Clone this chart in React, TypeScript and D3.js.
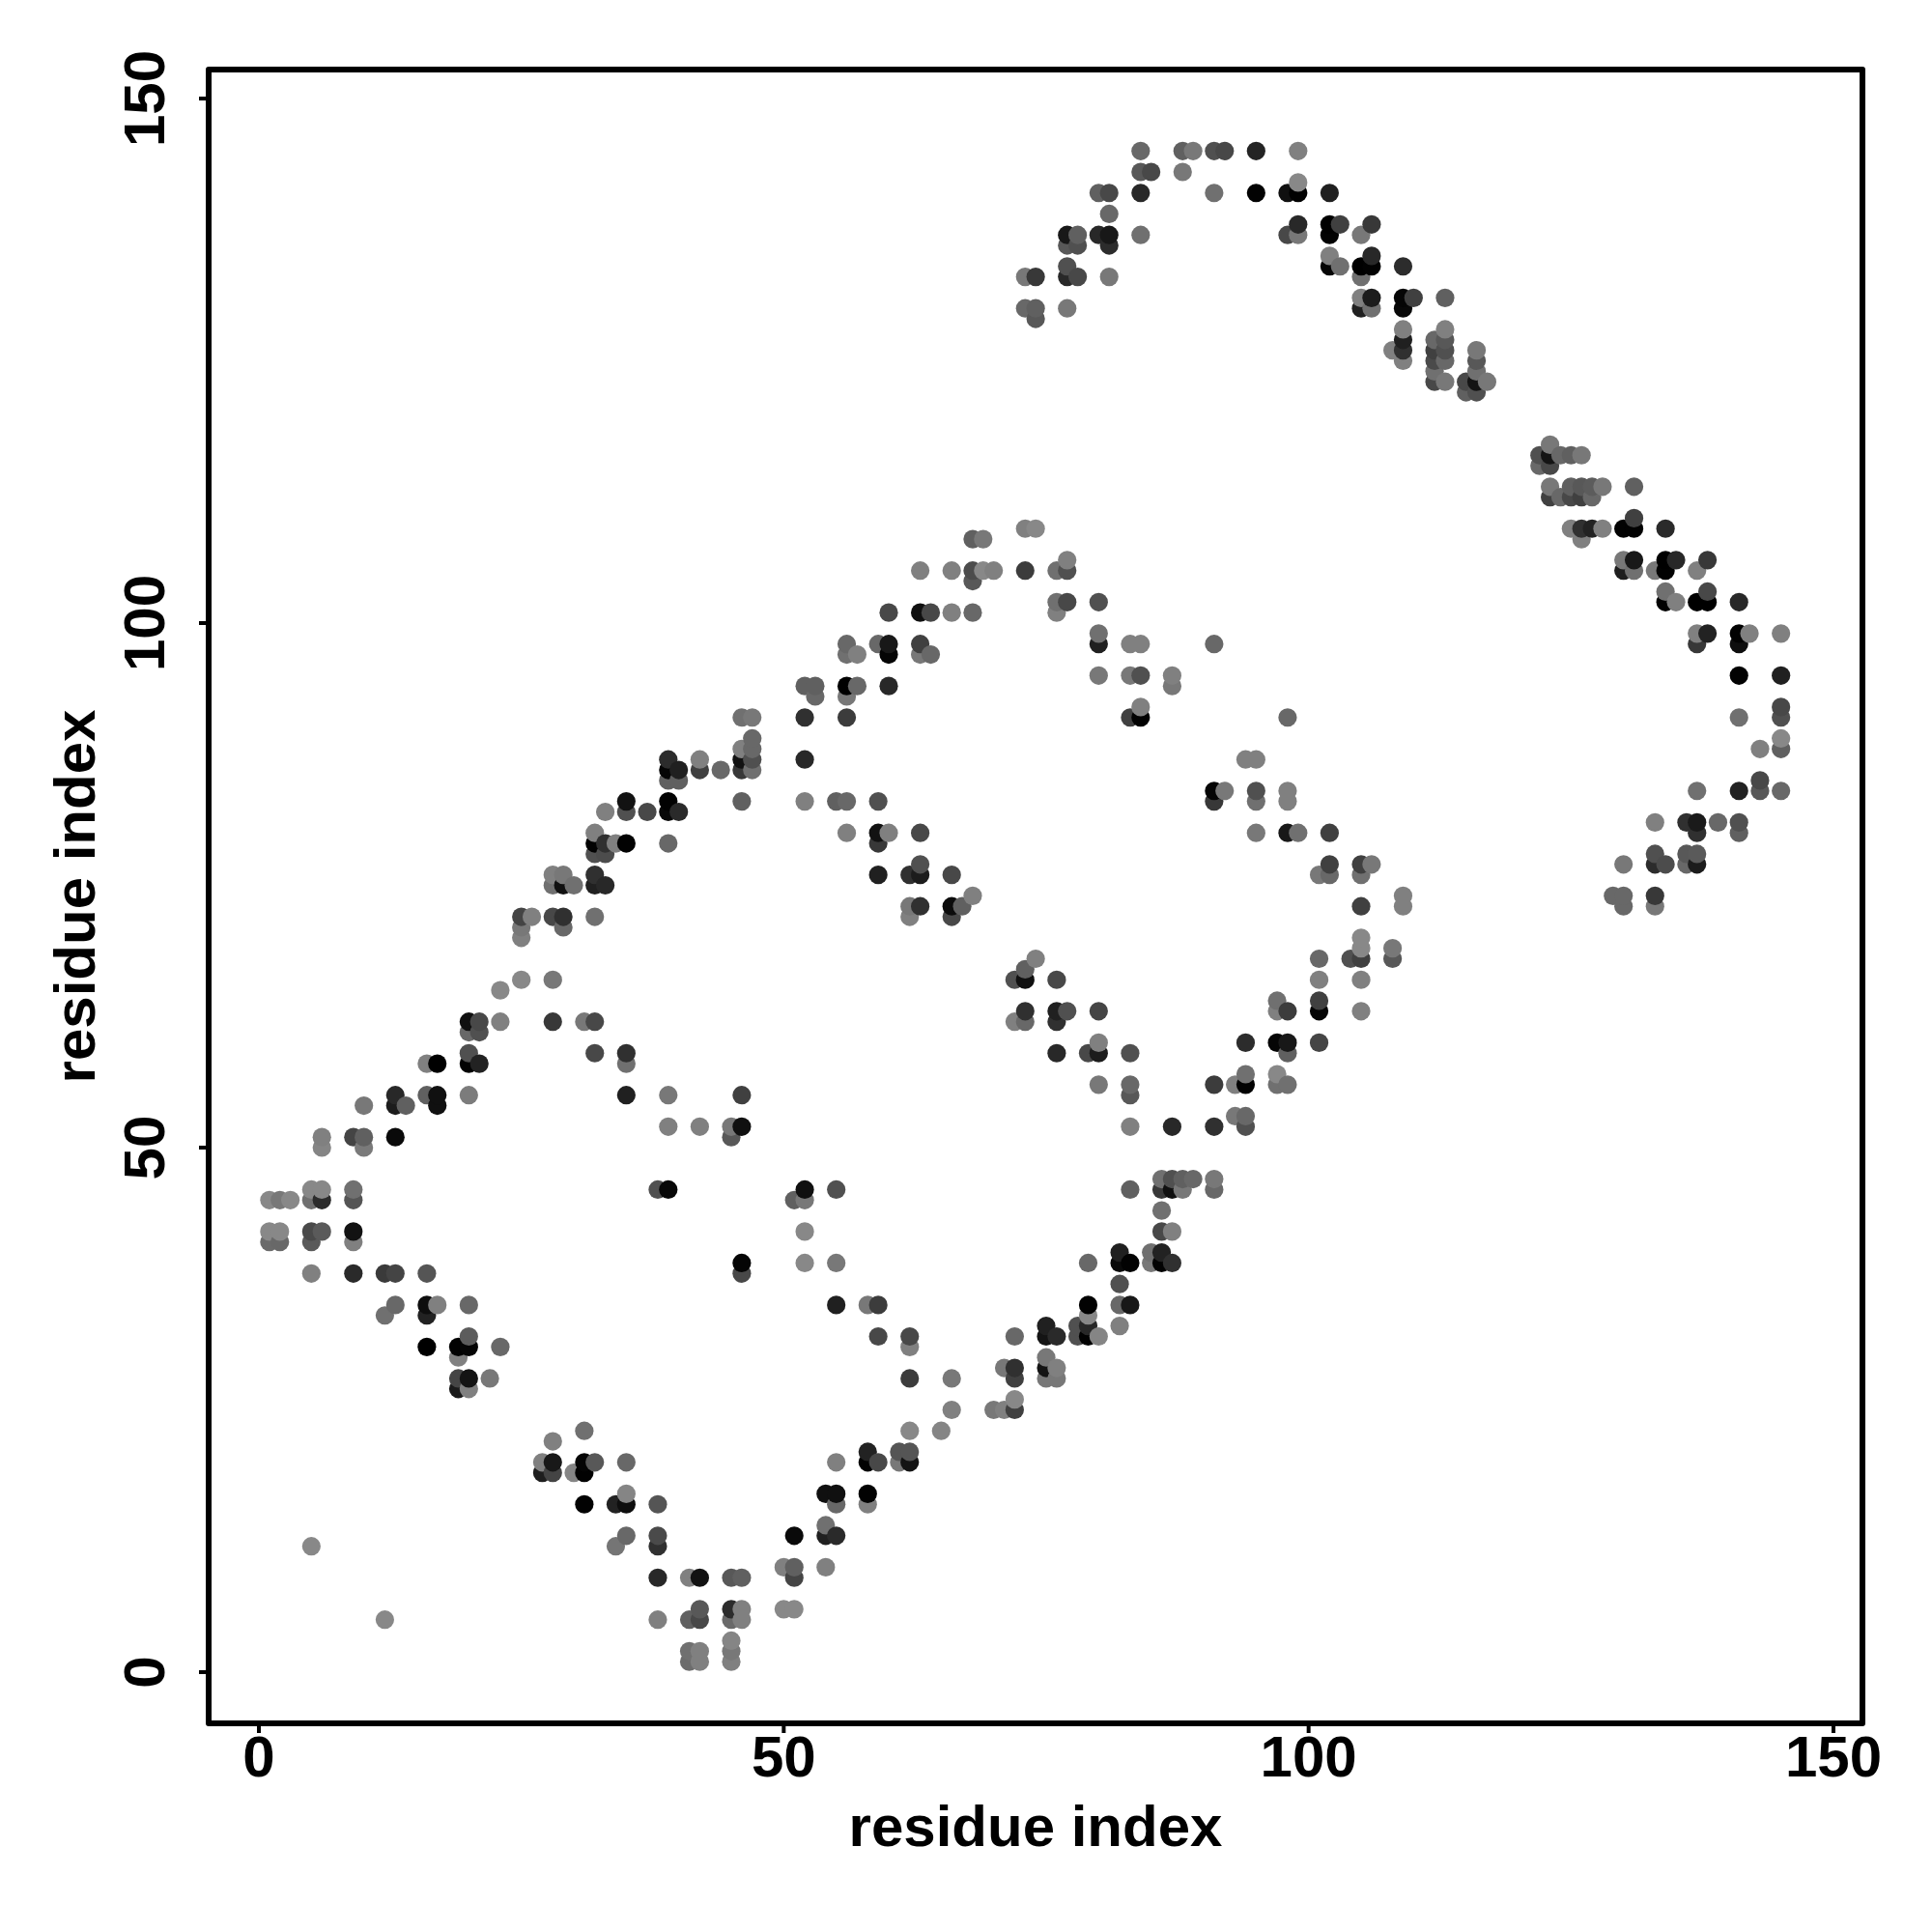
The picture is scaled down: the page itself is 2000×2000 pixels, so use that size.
import React from "react";
import * as d3 from "d3";

// Each contact: [residue i, residue j, grey level of the dot]
type Contact = [number, number, number];

const xTickValues = [0, 50, 100, 150];
const yTickValues = [0, 50, 100, 150];
const xAxisTitle = "residue index";
const yAxisTitle = "residue index";

const outliers: Contact[] = [[5,12,0x88],[12,5,0x88]];

const leftEdge: Contact[] = [
  [6,51,0x80],[9,51,0x44],[10,51,0x60],[10,50,0x7a],[6,50,0x85],[13,51,0x0a],
  [5,46,0x88],[6,46,0x88],[9,46,0x70],[1,45,0x88],[2,45,0x78],[3,45,0x88],[5,45,0x70],[6,45,0x2c],[9,45,0x55],
  [1,42,0x88],[2,42,0x88],[5,42,0x4a],[6,42,0x5a],[9,42,0x12],[1,41,0x6a],[2,41,0x68],[5,41,0x5a],[9,41,0x80],
  [5,38,0x80],[9,38,0x2a],[12,38,0x3a],[13,38,0x44],[16,38,0x55],
  [13,35,0x68],[16,35,0x0e],[17,35,0x80],[20,35,0x68],[12,34,0x70],[16,34,0x22],
  [16,31,0x00],[19,31,0x02],[20,31,0x05],[23,31,0x68],[19,30,0x80],[20,32,0x5c],
  [19,28,0x45],[20,28,0x14],[22,28,0x78],[19,27,0x1a],[20,27,0x80],
];

const firstTrough: Contact[] = [
  [31,23,0x70],[28,22,0x80],[27,20,0x80],[28,20,0x18],[31,20,0x05],[32,20,0x58],[35,20,0x68],
  [27,19,0x1e],[28,19,0x44],[30,19,0x85],[31,19,0x02],
  [31,16,0x02],[34,16,0x22],[35,16,0x0e],[35,17,0x85],[38,16,0x55],
  [35,13,0x68],[34,12,0x75],[38,13,0x4a],[38,12,0x30],
  [38,9,0x28],[41,9,0x80],[42,9,0x12],[45,9,0x58],[46,9,0x60],
  [38,5,0x80],[41,5,0x60],[42,6,0x58],[42,5,0x48],[45,6,0x2c],[46,6,0x80],[45,5,0x6a],[46,5,0x80],
  [41,2,0x70],[41,1,0x6c],[42,2,0x80],[42,1,0x80],[45,3,0x85],[45,2,0x78],[45,1,0x80],
];

const risingBand: Contact[] = [
  [52,42,0x88],[46,39,0x05],[46,38,0x48],[52,39,0x88],[55,39,0x78],
  [55,35,0x20],[58,35,0x78],[59,35,0x3c],[59,32,0x48],[62,32,0x48],[62,31,0x80],[62,28,0x3c],[66,28,0x78],
  [66,25,0x80],[62,23,0x88],[65,23,0x85],[70,25,0x78],[71,25,0x80],[72,25,0x40],[72,26,0x88],
  [71,29,0x78],[72,29,0x30],[72,28,0x40],[75,30,0x78],[76,29,0x80],[75,29,0x14],[75,28,0x78],[76,28,0x78],
  [72,32,0x68],[75,33,0x20],[75,32,0x14],[76,32,0x2a],
  [78,33,0x50],[78,32,0x50],[79,35,0x02],[79,34,0x88],[79,33,0x28],[79,32,0x02],[80,32,0x85],
  [82,33,0x80],[82,35,0x68],[83,35,0x18],[82,37,0x50],[82,40,0x20],[82,39,0x0a],[83,39,0x02],[79,39,0x68],
  [85,40,0x70],[85,39,0x78],[86,40,0x22],[86,39,0x02],[87,39,0x30],
  [55,20,0x80],[58,21,0x22],[58,20,0x02],[59,20,0x48],[61,21,0x55],[62,21,0x55],[61,20,0x78],[62,20,0x14],
  [54,17,0x10],[55,17,0x10],[55,16,0x68],[58,17,0x02],[58,16,0x80],
  [54,14,0x70],[54,13,0x20],[55,13,0x2a],[51,13,0x0a],[50,10,0x80],[51,10,0x60],[51,9,0x45],[54,10,0x80],
  [50,6,0x88],[51,6,0x88],[51,45,0x60],[52,45,0x78],[52,46,0x10],[55,46,0x50],
];

const centreRight: Contact[] = [
  [101,76,0x78],[102,76,0x68],[102,77,0x40],[105,76,0x70],[105,77,0x40],[106,77,0x78],
  [105,73,0x40],[109,74,0x80],[109,73,0x80],
  [105,70,0x88],[105,69,0x88],[105,68,0x40],[104,68,0x50],[101,68,0x68],[108,69,0x78],[108,68,0x58],
  [101,66,0x80],[105,66,0x80],[101,64,0x40],[101,63,0x05],[105,63,0x80],[97,64,0x70],[97,63,0x80],[98,63,0x3c],
  [94,60,0x2c],[97,60,0x05],[98,60,0x18],[98,59,0x60],[101,60,0x45],
  [91,56,0x3c],[93,56,0x80],[94,57,0x70],[94,56,0x02],[97,57,0x88],[97,56,0x70],[98,56,0x70],
  [93,53,0x78],[94,53,0x68],[94,52,0x50],[91,52,0x30],[87,52,0x28],[83,52,0x80],
  [80,56,0x78],[83,56,0x68],[83,55,0x58],[76,59,0x28],[79,59,0x48],[80,60,0x80],[80,59,0x1c],[83,59,0x50],
  [73,63,0x30],[72,62,0x80],[73,62,0x68],[76,63,0x20],[76,62,0x30],[77,63,0x50],[80,63,0x45],
  [72,66,0x50],[73,66,0x10],[73,67,0x60],[74,68,0x80],[76,66,0x48],[68,74,0x80],[67,73,0x60],
  [86,47,0x70],[87,47,0x50],[88,47,0x60],[89,47,0x68],[91,47,0x78],
  [83,46,0x60],[86,46,0x38],[87,46,0x10],[88,46,0x78],[91,46,0x68],[86,44,0x70],[86,42,0x48],[87,42,0x80],
];

const upperLeftEdge: Contact[] = [
  [47,89,0x68],[46,88,0x80],[47,88,0x68],[46,87,0x12],[47,87,0x50],[46,86,0x38],[47,86,0x70],
  [39,87,0x2c],[39,86,0x05],[40,86,0x20],[39,85,0x60],[40,85,0x60],[42,87,0x80],[42,86,0x40],[44,86,0x68],[52,87,0x28],
  [35,83,0x12],[35,82,0x50],[33,82,0x80],[37,82,0x48],[39,83,0x02],[39,82,0x08],[40,82,0x2a],[46,83,0x60],[52,83,0x80],
  [32,80,0x80],[32,79,0x02],[33,79,0x30],[34,79,0x80],[35,79,0x02],[39,79,0x68],[32,78,0x50],[33,78,0x4c],
  [28,76,0x80],[29,76,0x78],[28,75,0x70],[29,75,0x10],[30,75,0x70],[32,76,0x30],[32,75,0x20],[33,75,0x28],
  [25,72,0x44],[26,72,0x80],[25,71,0x78],[25,70,0x80],[28,72,0x48],[29,72,0x30],[29,71,0x68],[32,72,0x70],
  [25,66,0x88],[28,66,0x78],[23,65,0x88],[23,62,0x80],[20,62,0x10],[21,62,0x48],[20,61,0x68],[21,61,0x50],
  [28,62,0x38],[31,62,0x78],[32,62,0x48],[32,59,0x48],[35,59,0x30],[35,58,0x70],
  [20,59,0x50],[20,58,0x02],[21,58,0x22],[16,58,0x80],[17,58,0x00],
  [13,55,0x28],[13,54,0x1c],[14,54,0x60],[16,55,0x60],[17,55,0x10],[17,54,0x10],[20,55,0x7c],[10,54,0x78],
  [35,55,0x20],[39,55,0x78],[46,55,0x40],[39,52,0x80],[42,52,0x80],[45,52,0x78],[46,52,0x10],[45,51,0x58],
  [38,46,0x50],[39,46,0x08],
];

const middleArch: Contact[] = [
  [73,109,0x80],[74,109,0x88],[68,108,0x60],[69,108,0x78],
  [63,105,0x80],[66,105,0x80],[68,105,0x4c],[69,105,0x88],[70,105,0x80],[68,104,0x58],[73,105,0x3c],[76,105,0x70],[77,105,0x50],[77,106,0x80],
  [60,101,0x48],[63,101,0x10],[64,101,0x48],[66,101,0x80],[68,101,0x68],[76,102,0x70],[77,102,0x48],[76,101,0x80],[80,102,0x50],
  [56,98,0x68],[56,97,0x70],[57,97,0x80],[59,98,0x68],[60,98,0x18],[60,97,0x05],[63,98,0x40],[63,97,0x78],[64,97,0x68],
  [80,99,0x70],[80,98,0x20],[83,98,0x80],[84,98,0x80],[91,98,0x68],
  [80,95,0x78],[83,95,0x78],[84,95,0x50],[87,95,0x80],[87,94,0x78],
  [52,94,0x60],[53,94,0x60],[53,93,0x68],[56,94,0x00],[57,94,0x68],[56,93,0x78],[60,94,0x28],
  [84,92,0x80],[83,91,0x40],[84,91,0x02],[98,91,0x68],[46,91,0x70],[47,91,0x78],[52,91,0x30],[56,91,0x3c],
  [55,83,0x60],[56,83,0x68],[59,83,0x50],[56,80,0x80],[59,80,0x12],[60,80,0x80],[59,79,0x38],[63,80,0x48],
  [59,76,0x20],[62,76,0x30],[63,77,0x50],[63,76,0x1c],[66,76,0x48],
  [62,73,0x78],[63,73,0x30],[62,72,0x80],[66,73,0x0c],[66,72,0x48],
  [91,84,0x05],[92,84,0x78],[91,83,0x38],[95,84,0x50],[95,83,0x70],[98,84,0x80],[98,83,0x80],
  [94,87,0x80],[95,87,0x80],[95,80,0x78],[98,80,0x18],[99,80,0x70],[102,80,0x40],
];

const topArch: Contact[] = [
  [84,145,0x68],[88,145,0x60],[89,145,0x78],[91,145,0x50],[92,145,0x48],[95,145,0x24],[99,145,0x80],
  [84,143,0x58],[85,143,0x48],[88,143,0x78],
  [80,141,0x60],[81,141,0x48],[84,141,0x28],[91,141,0x70],[95,141,0x02],[98,141,0x10],[99,141,0x02],[99,142,0x88],[102,141,0x20],
  [81,139,0x68],[77,137,0x18],[78,137,0x60],[77,136,0x58],[78,136,0x50],[80,137,0x28],[81,137,0x18],[81,136,0x2c],[84,137,0x70],
  [99,138,0x28],[98,137,0x48],[99,137,0x78],[102,138,0x00],[103,138,0x40],[102,137,0x02],[105,137,0x78],[106,138,0x38],
  [77,134,0x50],[77,133,0x28],[78,133,0x48],[81,133,0x78],[73,133,0x78],[74,133,0x38],
  [102,135,0x80],[102,134,0x05],[103,134,0x70],[105,134,0x00],[106,134,0x02],[106,135,0x28],[105,133,0x70],[109,134,0x2c],
  [73,130,0x68],[74,130,0x60],[74,129,0x58],[77,130,0x78],
  [105,131,0x80],[106,131,0x1c],[105,130,0x20],[106,130,0x70],[109,131,0x05],[110,131,0x40],[109,130,0x08],[113,131,0x60],
  [109,128,0x80],[109,127,0x20],[109,126,0x30],[109,125,0x80],[108,126,0x80],
  [113,128,0x80],[112,127,0x68],[113,127,0x58],[112,126,0x40],[113,126,0x50],[112,125,0x4a],[113,125,0x68],[112,124,0x70],[112,123,0x48],[113,123,0x78],
  [116,126,0x78],[116,125,0x58],[116,124,0x70],[116,123,0x14],[115,123,0x48],[117,123,0x78],[115,122,0x60],[116,122,0x50],
];

const rightLobe: Contact[] = [
  [123,117,0x78],[122,116,0x50],[123,116,0x14],[124,116,0x68],[125,116,0x60],[126,116,0x78],[122,115,0x68],[123,115,0x48],
  [123,113,0x78],[125,113,0x60],[126,113,0x58],[127,113,0x5c],[128,113,0x78],[131,113,0x60],
  [123,112,0x40],[124,112,0x68],[125,112,0x48],[126,112,0x40],[127,112,0x68],
  [125,109,0x80],[126,109,0x30],[127,109,0x22],[128,109,0x80],[126,108,0x80],[130,109,0x02],[131,109,0x02],[131,110,0x40],[134,109,0x2a],
  [130,106,0x78],[131,106,0x18],[130,105,0x1e],[131,105,0x70],[133,105,0x78],[134,106,0x00],[135,106,0x28],[134,105,0x02],[137,105,0x80],[138,106,0x38],
  [134,103,0x70],[134,102,0x02],[135,102,0x80],[137,102,0x00],[138,102,0x00],[138,103,0x48],[141,102,0x28],
  [137,99,0x80],[138,99,0x22],[137,98,0x38],[141,99,0x02],[142,99,0x80],[141,98,0x0e],[145,99,0x80],
  [141,95,0x02],[145,95,0x20],[141,91,0x70],[145,92,0x48],[145,91,0x50],
  [143,88,0x80],[145,89,0x88],[145,88,0x60],
  [137,84,0x70],[141,84,0x22],[143,85,0x48],[143,84,0x58],[145,84,0x68],
  [133,81,0x80],[136,81,0x30],[137,81,0x1a],[137,80,0x30],[139,81,0x68],[141,81,0x50],[141,80,0x60],
  [133,78,0x50],[133,77,0x2c],[134,77,0x4c],[136,78,0x58],[137,78,0x5a],[136,77,0x68],[137,77,0x1c],[130,77,0x78],
  [129,74,0x68],[130,74,0x68],[130,73,0x68],[133,74,0x38],[133,73,0x78],
];

const W = 2000;
const H = 2000;
const frame = { left: 216, right: 1928, top: 72, bottom: 1784 };
const FONT = "'Liberation Sans', Arial, sans-serif";
const FONT_SIZE = 60;

export default function App() {
  const x = d3.scaleLinear().domain([0, 150]).range([268, 1898]);
  const y = d3.scaleLinear().domain([0, 150]).range([1731, 102]);
  const grey = d3.scaleLinear<string>().domain([0, 0x88]).range(["#000000", "#888888"]);

  const contacts = [
    ...outliers, ...leftEdge, ...firstTrough, ...risingBand, ...centreRight,
    ...upperLeftEdge, ...middleArch, ...topArch, ...rightLobe,
  ].sort((a, b) => d3.ascending(a[0], b[0]) || d3.ascending(a[1], b[1]));

  return (
    <svg
      width={W}
      height={H}
      viewBox={`0 0 ${W} ${H}`}
      style={{ position: "absolute", left: 0, top: 0, background: "#fff" }}
    >
      {contacts.map((d, k) => (
        <circle key={k} cx={x(d[0])} cy={y(d[1])} r={9.6} fill={grey(d[2])} />
      ))}
      <rect
        x={frame.left}
        y={frame.top}
        width={frame.right - frame.left}
        height={frame.bottom - frame.top}
        fill="none"
        stroke="#000"
        strokeWidth={6}
        strokeLinejoin="round"
      />
      {xTickValues.map((t) => (
        <g key={t}>
          <line x1={x(t)} x2={x(t)} y1={frame.bottom} y2={frame.bottom + 10} stroke="#000" strokeWidth={4} />
          <text x={x(t)} y={1838.5} textAnchor="middle" fontFamily={FONT} fontWeight={700} fontSize={FONT_SIZE}>
            {t}
          </text>
        </g>
      ))}
      {yTickValues.map((t) => (
        <g key={t}>
          <line x1={frame.left - 10} x2={frame.left} y1={y(t)} y2={y(t)} stroke="#000" strokeWidth={4} />
          <text
            transform={`translate(170,${y(t)}) rotate(-90)`}
            textAnchor="middle"
            fontFamily={FONT}
            fontWeight={700}
            fontSize={FONT_SIZE}
          >
            {t}
          </text>
        </g>
      ))}
      <text x={1072} y={1911} textAnchor="middle" fontFamily={FONT} fontWeight={700} fontSize={FONT_SIZE}>
        {xAxisTitle}
      </text>
      <text
        transform={`translate(98,928) rotate(-90)`}
        textAnchor="middle"
        fontFamily={FONT}
        fontWeight={700}
        fontSize={FONT_SIZE}
      >
        {yAxisTitle}
      </text>
    </svg>
  );
}
